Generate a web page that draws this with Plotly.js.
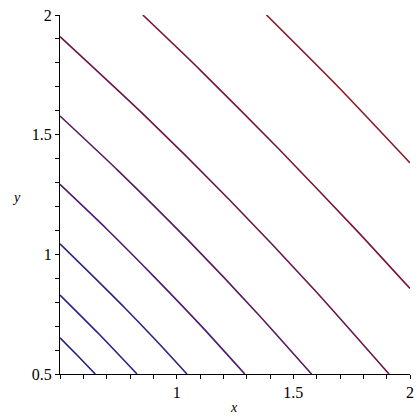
<!DOCTYPE html>
<html>
<head>
<meta charset="utf-8">
<script src="https://cdn.plot.ly/plotly-3.0.1.min.js"></script>
<style>html,body{margin:0;padding:0;background:#fff;}#chart{width:420px;height:420px;}</style>
</head>
<body>
<div id="chart"></div>
<script>
// Contour lines (x, y points per level, lowest to highest)
const c1x = [0.5, 0.576, 0.651];
const c1y = [0.651, 0.576, 0.5];
const c2x = [0.5, 0.667, 0.830];
const c2y = [0.830, 0.667, 0.5];
const c3x = [0.5, 0.640, 0.777, 0.912, 1.044];
const c3y = [1.044, 0.910, 0.777, 0.640, 0.5];
const c4x = [0.5, 0.700, 0.905, 1.106, 1.292];
const c4y = [1.292, 1.106, 0.905, 0.700, 0.5];
const c5x = [0.5, 0.75, 1.054, 1.349, 1.578];
const c5y = [1.578, 1.349, 1.054, 0.75, 0.5];
const c6x = [0.5, 0.85, 1.227, 1.592, 1.910];
const c6y = [1.910, 1.592, 1.227, 0.85, 0.5];
const c7x = [0.855, 1.1, 1.439, 1.771, 2.0];
const c7y = [2.0, 1.771, 1.439, 1.1, 0.857];
const c8x = [1.385, 1.696, 2.0];
const c8y = [2.0, 1.696, 1.382];
const levelColors = ['#1e1e8e', '#2c1f88', '#3a1e7e', '#4a1b70', '#5a1862', '#6a1548', '#7b1634', '#8a1a28'];

const xs = [c1x, c2x, c3x, c4x, c5x, c6x, c7x, c8x];
const ys = [c1y, c2y, c3y, c4y, c5y, c6y, c7y, c8y];

const traces = xs.map((x, i) => ({
  x: x, y: ys[i], type: 'scatter', mode: 'lines',
  line: {color: levelColors[i], width: 1.6, shape: 'spline', smoothing: 0.6},
  hoverinfo: 'none', showlegend: false
}));

const serif = "'Liberation Serif', 'Times New Roman', serif";
const tickFont = {family: serif, size: 16, color: '#000'};
const axisCommon = {
  range: [0.5, 2], showgrid: false, zeroline: false, showline: true,
  linecolor: '#000', linewidth: 1, ticks: 'outside', ticklen: 4, tickwidth: 1,
  tickcolor: '#000', tickfont: tickFont, fixedrange: true,
  minor: {dtick: 0.1, tick0: 0.5, ticks: 'outside', ticklen: 4, tickcolor: '#000', tickwidth: 1, showgrid: false}
};

const layout = {
  width: 420, height: 420,
  margin: {l: 60, r: 10, t: 15, b: 46},
  paper_bgcolor: '#fff', plot_bgcolor: '#fff',
  font: {family: serif, color: '#000'},
  xaxis: Object.assign({}, axisCommon, {tickvals: [1, 1.5, 2], ticktext: ['1', '1.5', '2']}),
  yaxis: Object.assign({}, axisCommon, {tickvals: [0.5, 1, 1.5, 2], ticktext: ['0.5', '1', '1.5', '2']}),
  annotations: [
    {text: '<i>x</i>', xref: 'paper', yref: 'paper', x: 0.497, y: -0.092, showarrow: false,
     font: {family: serif, size: 14, color: '#000'}, xanchor: 'center', yanchor: 'middle'},
    {text: '<i>y</i>', xref: 'paper', yref: 'paper', x: -0.123, y: 0.493, showarrow: false,
     font: {family: serif, size: 14, color: '#000'}, xanchor: 'center', yanchor: 'middle'}
  ]
};

Plotly.newPlot('chart', traces, layout, {displayModeBar: false, staticPlot: true});
</script>
</body>
</html>
